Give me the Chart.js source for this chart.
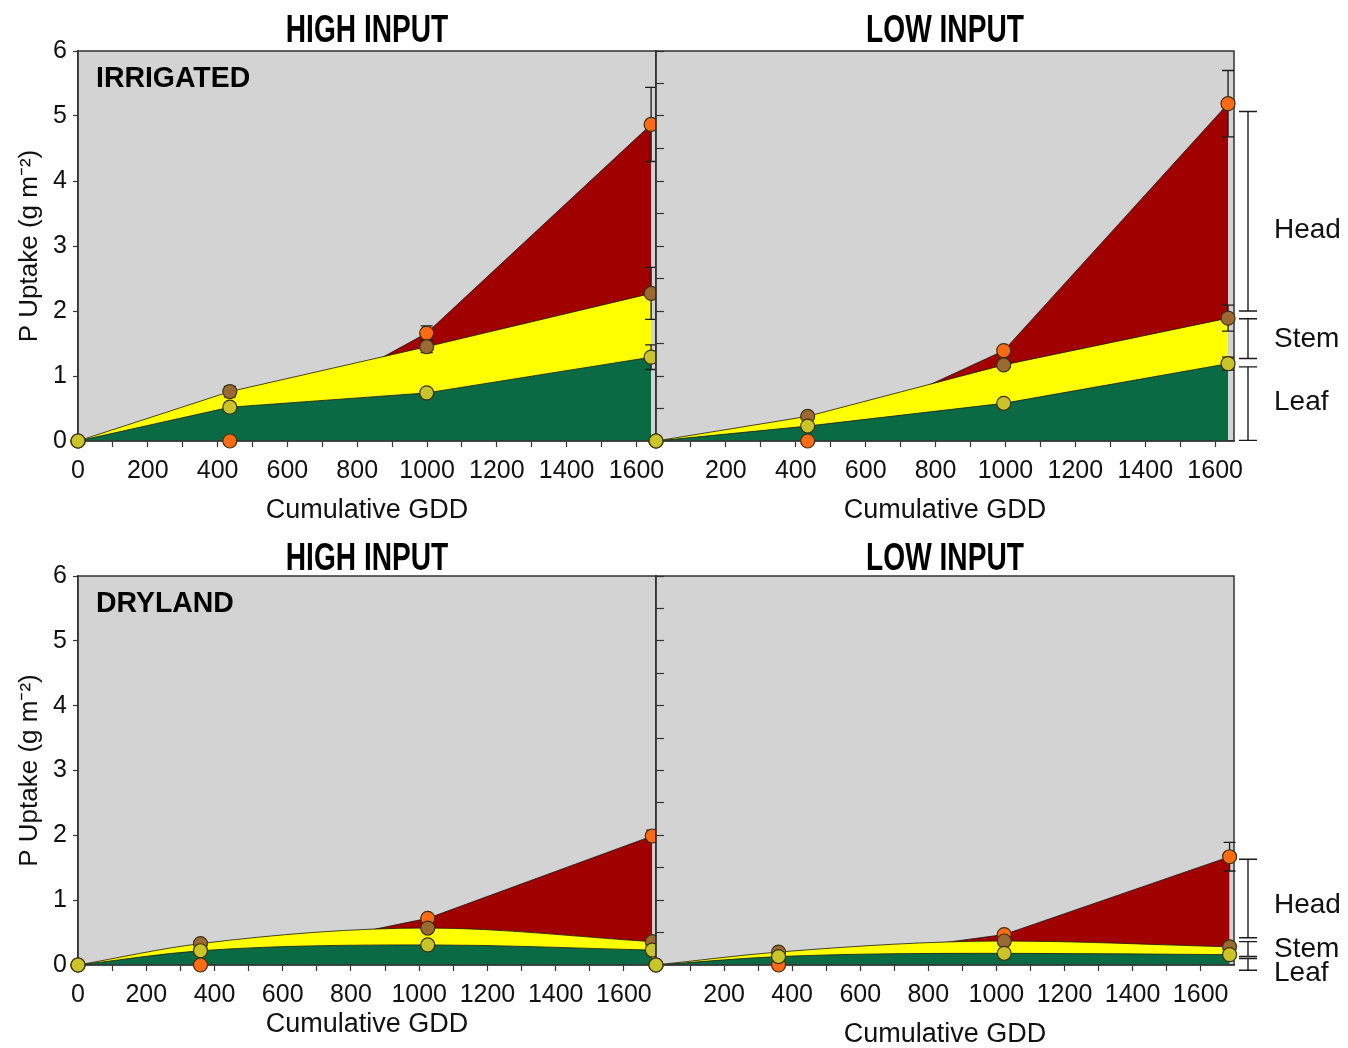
<!DOCTYPE html>
<html>
<head>
<meta charset="utf-8">
<title>P uptake by plant part</title>
<script src="https://cdn.jsdelivr.net/npm/chart.js@4.4.1/dist/chart.umd.min.js"></script>
<style>
  html, body { margin: 0; padding: 0; background: #fff; width: 1348px; height: 1048px; overflow: hidden; }
  canvas { position: absolute; }
</style>
</head>
<body>
<canvas id="irrHigh"></canvas>
<canvas id="irrLow"></canvas>
<canvas id="dryHigh"></canvas>
<canvas id="dryLow"></canvas>
<script>
// ---- data ----
const parts = ['Leaf', 'Stem', 'Head'];
const inputLevels = ['HIGH INPUT', 'LOW INPUT'];
const waterRegimes = ['IRRIGATED', 'DRYLAND'];
const gddTicks = [0, 200, 400, 600, 800, 1000, 1200, 1400, 1600];
const gddTickMarks = [0, 100, 200, 300, 400, 500, 600, 700, 800, 900, 1000, 1100, 1200, 1300, 1400, 1500, 1600];
const uptakeTicks = [0, 1, 2, 3, 4, 5, 6];
const uptakeTickMarks = [0, 0.5, 1, 1.5, 2, 2.5, 3, 3.5, 4, 4.5, 5, 5.5, 6];

// cumulative GDD at each sampling date
const gddIrrHigh = [0, 435, 999, 1642];
const gddIrrLow  = [0, 434, 995, 1637];
const gddDryHigh = [0, 359, 1025, 1683];
const gddDryLow  = [0, 360, 1023, 1685];

// P uptake (g m-2), plotted cumulatively: leaf, leaf+stem, head
const leafIrrHigh = [0, 0.52, 0.74, 1.29];
const stemIrrHigh = [0, 0.76, 1.45, 2.27];
const headIrrHigh = [0, 0, 1.66, 4.87];

const leafIrrLow = [0, 0.23, 0.58, 1.19];
const stemIrrLow = [0, 0.38, 1.17, 1.89];
const headIrrLow = [0, 0, 1.39, 5.19];

const leafDryHigh = [0, 0.22, 0.31, 0.23];
const stemDryHigh = [0, 0.33, 0.57, 0.36];
const headDryHigh = [0, 0, 0.72, 1.99];

const leafDryLow = [0, 0.13, 0.18, 0.16];
const stemDryLow = [0, 0.20, 0.37, 0.28];
const headDryLow = [0, 0, 0.47, 1.67];

// standard errors
const leafErrIrrHigh = [0, 0.03, 0.03, 0.19];
const stemErrIrrHigh = [0, 0.08, 0.09, 0.40];
const headErrIrrHigh = [0, 0, 0.11, 0.57];

const leafErrIrrLow = [0, 0.02, 0.02, 0.10];
const stemErrIrrLow = [0, 0.02, 0.03, 0.20];
const headErrIrrLow = [0, 0, 0.03, 0.51];

const leafErrDryHigh = [0, 0.02, 0.02, 0.02];
const stemErrDryHigh = [0, 0.03, 0.03, 0.03];
const headErrDryHigh = [0, 0, 0.03, 0.09];

const leafErrDryLow = [0, 0.01, 0.01, 0.01];
const stemErrDryLow = [0, 0.02, 0.02, 0.02];
const headErrDryLow = [0, 0, 0.03, 0.22];

// ---- styling ----
const SANS = '"Liberation Sans", Arial, sans-serif';
const INK = '#1b1b1b';
const TICK_FONT = { family: SANS, size: 25 };
const bandColors = ['#0a6a43', '#ffff00', '#a00000'];
const dotColors = ['#c9c42a', '#9b6a32', '#ff6a14'];

// text whose vertical centre sits at yc, optionally squeezed horizontally
function drawText(ctx, txt, x, yc, size, squeeze) {
  ctx.save();
  ctx.translate(x, yc + 0.358 * size);
  ctx.scale(squeeze || 1, 1);
  ctx.fillText(txt, 0, 0);
  ctx.restore();
}

function makeDecor(p) {
  return {
    id: 'decor',
    beforeDraw(chart) {
      const { ctx, chartArea: a } = chart;
      ctx.save();
      ctx.fillStyle = '#d3d3d3';
      ctx.fillRect(a.left, a.top, a.right - a.left, a.bottom - a.top);
      ctx.restore();
    },
    afterDatasetDraw(chart, args) {
      if (args.index !== 3) return;
      const { ctx, chartArea: a, scales: { x, y } } = chart;
      ctx.save();
      ctx.strokeStyle = '#333';
      ctx.lineWidth = 1.5;
      ctx.strokeRect(a.left, a.top, a.right - a.left, a.bottom - a.top);
      // error bars
      ctx.strokeStyle = INK;
      ctx.lineWidth = 1.3;
      p.series.forEach((ys, s) => {
        ys.forEach((v, i) => {
          const e = p.errs[s][i];
          if (!e) return;
          const px = x.getPixelForValue(p.gdd[i]);
          const y1 = y.getPixelForValue(v + e), y2 = y.getPixelForValue(v - e);
          ctx.beginPath();
          ctx.moveTo(px, y1); ctx.lineTo(px, y2);
          ctx.moveTo(px - 6, y1); ctx.lineTo(px + 6, y1);
          ctx.moveTo(px - 6, y2); ctx.lineTo(px + 6, y2);
          ctx.stroke();
        });
      });
      ctx.restore();
    },
    afterDraw(chart) {
      const { ctx, chartArea: a, scales: { y } } = chart;
      ctx.save();
      ctx.fillStyle = '#000';
      ctx.textAlign = 'center';
      ctx.textBaseline = 'alphabetic';
      ctx.font = 'bold 38px ' + SANS;
      drawText(ctx, p.title, (a.left + a.right) / 2, p.titleY - p.box.y, 38, 0.74);
      if (p.regime) {
        ctx.textAlign = 'left';
        ctx.font = 'bold 29px ' + SANS;
        drawText(ctx, p.regime, 96 - p.box.x, p.regimeY - p.box.y, 29, 0.98);
      }
      if (p.brackets) {
        const bx = 1248 - p.box.x;
        ctx.strokeStyle = INK;
        ctx.lineWidth = 1.4;
        p.brackets.forEach(([lo, hi]) => {
          const y1 = y.getPixelForValue(hi), y2 = y.getPixelForValue(lo);
          ctx.beginPath();
          ctx.moveTo(bx, y1); ctx.lineTo(bx, y2);
          ctx.moveTo(bx - 9, y1); ctx.lineTo(bx + 9, y1);
          ctx.moveTo(bx - 9, y2); ctx.lineTo(bx + 9, y2);
          ctx.stroke();
        });
        ctx.textAlign = 'left';
        ctx.font = '28px ' + SANS;
        ctx.fillStyle = '#111';
        parts.forEach((name, i) => {
          drawText(ctx, name, 1274 - p.box.x, p.labelY[i] - p.box.y, 28);
        });
      }
      ctx.restore();
    }
  };
}

function panelChart(id, p) {
  const cv = document.getElementById(id);
  const { box, area } = p;
  cv.width = box.w; cv.height = box.h;
  cv.style.left = box.x + 'px'; cv.style.top = box.y + 'px';
  cv.style.width = box.w + 'px'; cv.style.height = box.h + 'px';

  const xy = ys => p.gdd.map((g, i) => ({ x: g, y: ys[i] }));
  // leaf and stem boundaries are smoothed in the dryland panels; head stays straight
  const curve = s => (p.smooth && s < 2) ? { cubicInterpolationMode: 'monotone' } : { tension: 0 };
  const dot = (s) => ({
    label: parts[s], data: xy(p.series[s]), showLine: false, clip: false,
    pointRadius: 7, pointBackgroundColor: dotColors[s],
    pointBorderColor: '#3b3212', pointBorderWidth: 1.2
  });
  const band = (s) => Object.assign({
    label: parts[s] + ' area', data: xy(p.series[s]), fill: 'origin',
    backgroundColor: bandColors[s], borderColor: 'rgba(25,25,25,0.8)',
    borderWidth: 1, pointRadius: 0
  }, curve(s));

  const yAxisW = area.l - box.x;
  const xAxisH = box.y + box.h - area.b;
  const xTitleSize = 27, yTitleSize = 26;

  return new Chart(cv, {
    type: 'line',
    data: { datasets: [dot(0), dot(1), dot(2), band(0), band(1), band(2)] },
    options: {
      responsive: false,
      animation: false,
      devicePixelRatio: 1,
      layout: { padding: { left: 0, top: area.t - box.y, right: box.x + box.w - area.r, bottom: 0 } },
      plugins: {
        legend: { display: false },
        tooltip: { enabled: false },
        filler: { drawTime: 'beforeDatasetDraw' }
      },
      scales: {
        x: {
          type: 'linear', min: 0, max: p.xMax,
          afterBuildTicks: s => { s.ticks = gddTickMarks.map(v => ({ value: v })); },
          afterFit: s => { s.height = xAxisH; },
          ticks: {
            autoSkip: false, maxRotation: 0,
            padding: 9, color: '#111', font: TICK_FONT,
            callback: v => (gddTicks.includes(v) && !(p.hideZero && v === 0)) ? String(v) : ''
          },
          grid: { drawOnChartArea: false, tickLength: 6, color: '#333', tickColor: '#333', tickWidth: 1.2 },
          border: { color: '#333', width: 1.5 },
          title: {
            display: true, text: 'Cumulative GDD', color: '#111',
            font: { family: SANS, size: xTitleSize },
            padding: { top: 0, bottom: box.y + box.h - p.xTitleY - xTitleSize * 0.6 }
          }
        },
        y: {
          min: 0, max: 6,
          afterBuildTicks: s => { s.ticks = uptakeTickMarks.map(v => ({ value: v })); },
          afterFit: s => { s.width = yAxisW; },
          ticks: {
            display: !p.hideY, padding: 6, color: '#111', font: TICK_FONT,
            callback: v => uptakeTicks.includes(v) ? String(v) : ''
          },
          grid: { drawOnChartArea: false, tickLength: p.hideY ? -8 : 5, color: '#333', tickColor: '#333', tickWidth: 1.2 },
          border: { color: '#333', width: 1.5 },
          title: {
            display: !p.hideY, text: 'P Uptake (g m\u207B\u00B2)', color: '#111',
            font: { family: SANS, size: yTitleSize },
            padding: { top: 30 - box.x - yTitleSize * 0.6, bottom: 0 }
          }
        }
      }
    },
    plugins: [makeDecor(p)]
  });
}

panelChart('irrHigh', {
  box: { x: 0, y: 0, w: 680, h: 530 }, area: { l: 78, t: 51, r: 656, b: 441 },
  xMax: 1656, xTitleY: 511, title: inputLevels[0], titleY: 28,
  regime: waterRegimes[0], regimeY: 77,
  gdd: gddIrrHigh, series: [leafIrrHigh, stemIrrHigh, headIrrHigh],
  errs: [leafErrIrrHigh, stemErrIrrHigh, headErrIrrHigh]
});
panelChart('irrLow', {
  box: { x: 600, y: 0, w: 748, h: 530 }, area: { l: 656, t: 51, r: 1234, b: 441 },
  xMax: 1654, xTitleY: 511, title: inputLevels[1], titleY: 28, hideY: true, hideZero: true,
  gdd: gddIrrLow, series: [leafIrrLow, stemIrrLow, headIrrLow],
  errs: [leafErrIrrLow, stemErrIrrLow, headErrIrrLow],
  brackets: [[0.01, 1.14], [1.27, 1.88], [2.0, 5.07]], labelY: [400, 337, 228]
});
panelChart('dryHigh', {
  box: { x: 0, y: 528, w: 680, h: 520 }, area: { l: 78, t: 576, r: 656, b: 965 },
  xMax: 1694, xTitleY: 1025, title: inputLevels[0], titleY: 556, smooth: true,
  regime: waterRegimes[1], regimeY: 602,
  gdd: gddDryHigh, series: [leafDryHigh, stemDryHigh, headDryHigh],
  errs: [leafErrDryHigh, stemErrDryHigh, headErrDryHigh]
});
panelChart('dryLow', {
  box: { x: 600, y: 528, w: 748, h: 530 }, area: { l: 656, t: 576, r: 1234, b: 965 },
  xMax: 1698, xTitleY: 1035, title: inputLevels[1], titleY: 556, smooth: true, hideY: true, hideZero: true,
  gdd: gddDryLow, series: [leafDryLow, stemDryLow, headDryLow],
  errs: [leafErrDryLow, stemErrDryLow, headErrDryLow],
  brackets: [[-0.08, 0.10], [0.13, 0.36], [0.42, 1.63]], labelY: [971, 947, 903]
});
</script>
</body>
</html>
